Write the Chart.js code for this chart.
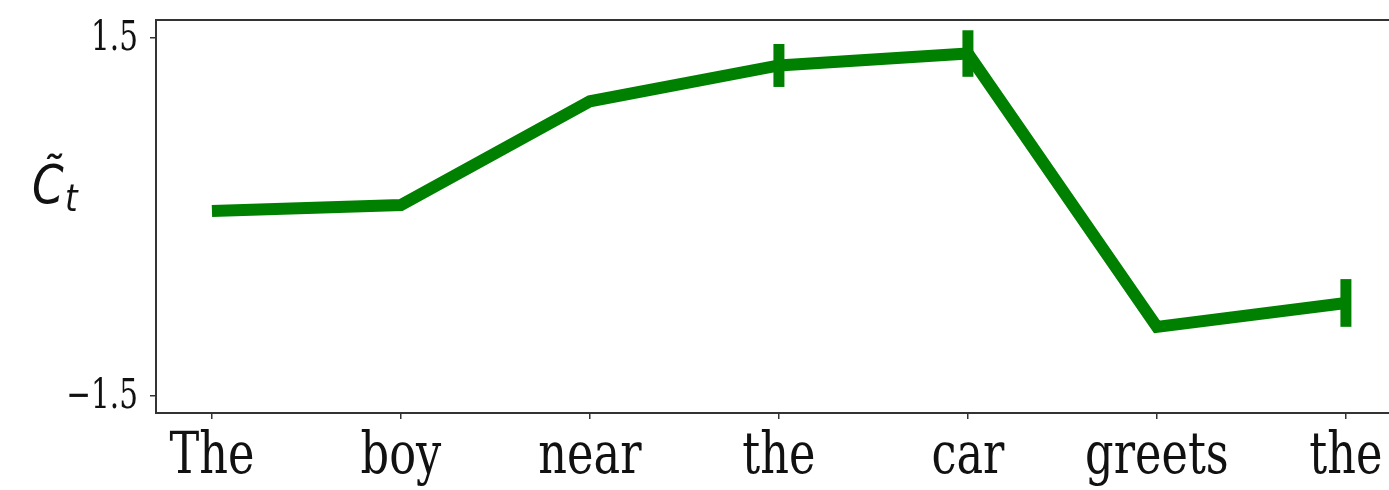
<!DOCTYPE html>
<html>
<head>
<meta charset="utf-8">
<script src="https://cdn.jsdelivr.net/npm/chart.js@4/dist/chart.umd.min.js"></script>
<style>
  html, body { margin: 0; padding: 0; background: #fff; overflow: hidden; }
  #wrap { width: 1389px; height: 490px; }
</style>
</head>
<body>
<div id="wrap"><canvas id="chart" width="1389" height="490"></canvas></div>
<script>
// words along the x axis
const words = ['The', 'boy', 'near', 'the', 'car', 'greets', 'the'];
// mean value per word and the half-height of its error bar
const meanValues = [0.05, 0.10, 0.97, 1.27, 1.37, -0.92, -0.72];
const errValues = [0, 0, 0.03, 0.18, 0.195, 0, 0.2];
const yTickValues = [-1.5, 1.5];

const green = '#008000';
const axisColor = '#333';

// error bars + top border + condensed serif labels, drawn from the scales
const decorations = {
  id: 'decorations',
  afterDatasetsDraw(chart) {
    const { ctx, scales: { x, y } } = chart;
    ctx.save();
    ctx.strokeStyle = green;
    ctx.lineWidth = 11;
    ctx.lineCap = 'butt';
    meanValues.forEach((v, i) => {
      if (!errValues[i]) return;
      const px = x.getPixelForValue(i);
      ctx.beginPath();
      ctx.moveTo(px, y.getPixelForValue(v + errValues[i]));
      ctx.lineTo(px, y.getPixelForValue(v - errValues[i]));
      ctx.stroke();
    });
    ctx.restore();
  },
  afterDraw(chart) {
    const { ctx, chartArea, scales: { x, y } } = chart;
    ctx.save();
    // top frame line
    ctx.strokeStyle = axisColor;
    ctx.lineWidth = 2;
    ctx.beginPath();
    ctx.moveTo(chartArea.left, chartArea.top);
    ctx.lineTo(chartArea.right, chartArea.top);
    ctx.stroke();

    ctx.fillStyle = '#111';
    // x labels
    ctx.font = '58px "DejaVu Serif"';
    ctx.textAlign = 'center';
    ctx.textBaseline = 'alphabetic';
    words.forEach((w, i) => {
      ctx.save();
      ctx.translate(x.getPixelForValue(i), 473);
      ctx.scale(0.77, 1);
      ctx.fillText(w, 0, 0);
      ctx.restore();
    });
    // y labels
    ctx.font = '41px "DejaVu Serif"';
    ctx.textAlign = 'right';
    ctx.textBaseline = 'middle';
    yTickValues.forEach(v => {
      ctx.save();
      ctx.translate(138, y.getPixelForValue(v) + 1);
      ctx.scale(0.72, 1);
      ctx.fillText(v < 0 ? '\u2212' + Math.abs(v).toFixed(1) : v.toFixed(1), 0, 0);
      ctx.restore();
    });
    // y title: C tilde, subscript t
    ctx.textAlign = 'left';
    ctx.textBaseline = 'alphabetic';
    ctx.font = 'oblique 54px "DejaVu Sans"';
    ctx.save();
    ctx.translate(32, 203);
    ctx.scale(0.84, 1);
    ctx.fillText('C\u0303', 0, 0);
    ctx.restore();
    ctx.font = 'oblique 38px "DejaVu Sans"';
    ctx.save();
    ctx.translate(65, 211);
    ctx.scale(0.85, 1);
    ctx.fillText('t', 0, 0);
    ctx.restore();
    ctx.restore();
  }
};

new Chart(document.getElementById('chart'), {
  type: 'line',
  data: {
    datasets: [{
      data: meanValues.map((v, i) => ({ x: i, y: v })),
      borderColor: green,
      borderWidth: 12,
      pointRadius: 0,
      tension: 0,
      fill: false
    }]
  },
  options: {
    responsive: false,
    animation: false,
    devicePixelRatio: 1,
    layout: { padding: { top: 20, left: 0, right: 0, bottom: 0 } },
    plugins: { legend: { display: false }, tooltip: { enabled: false } },
    scales: {
      x: {
        type: 'linear',
        min: -0.296,
        max: 6.228,
        afterFit: s => { s.height = 77; },
        afterBuildTicks: s => { s.ticks = words.map((w, i) => ({ value: i })); },
        ticks: { display: false },
        grid: { drawOnChartArea: false, drawTicks: true, tickLength: 6, color: axisColor, lineWidth: 1.5 },
        border: { display: true, color: axisColor, width: 2 }
      },
      y: {
        min: -1.642,
        max: 1.651,
        afterFit: s => { s.width = 156; },
        afterBuildTicks: s => { s.ticks = yTickValues.map(v => ({ value: v })); },
        ticks: { display: false },
        grid: { drawOnChartArea: false, drawTicks: true, tickLength: 6, color: axisColor, lineWidth: 1.5 },
        border: { display: true, color: axisColor, width: 2 }
      }
    }
  },
  plugins: [decorations]
});
</script>
</body>
</html>
